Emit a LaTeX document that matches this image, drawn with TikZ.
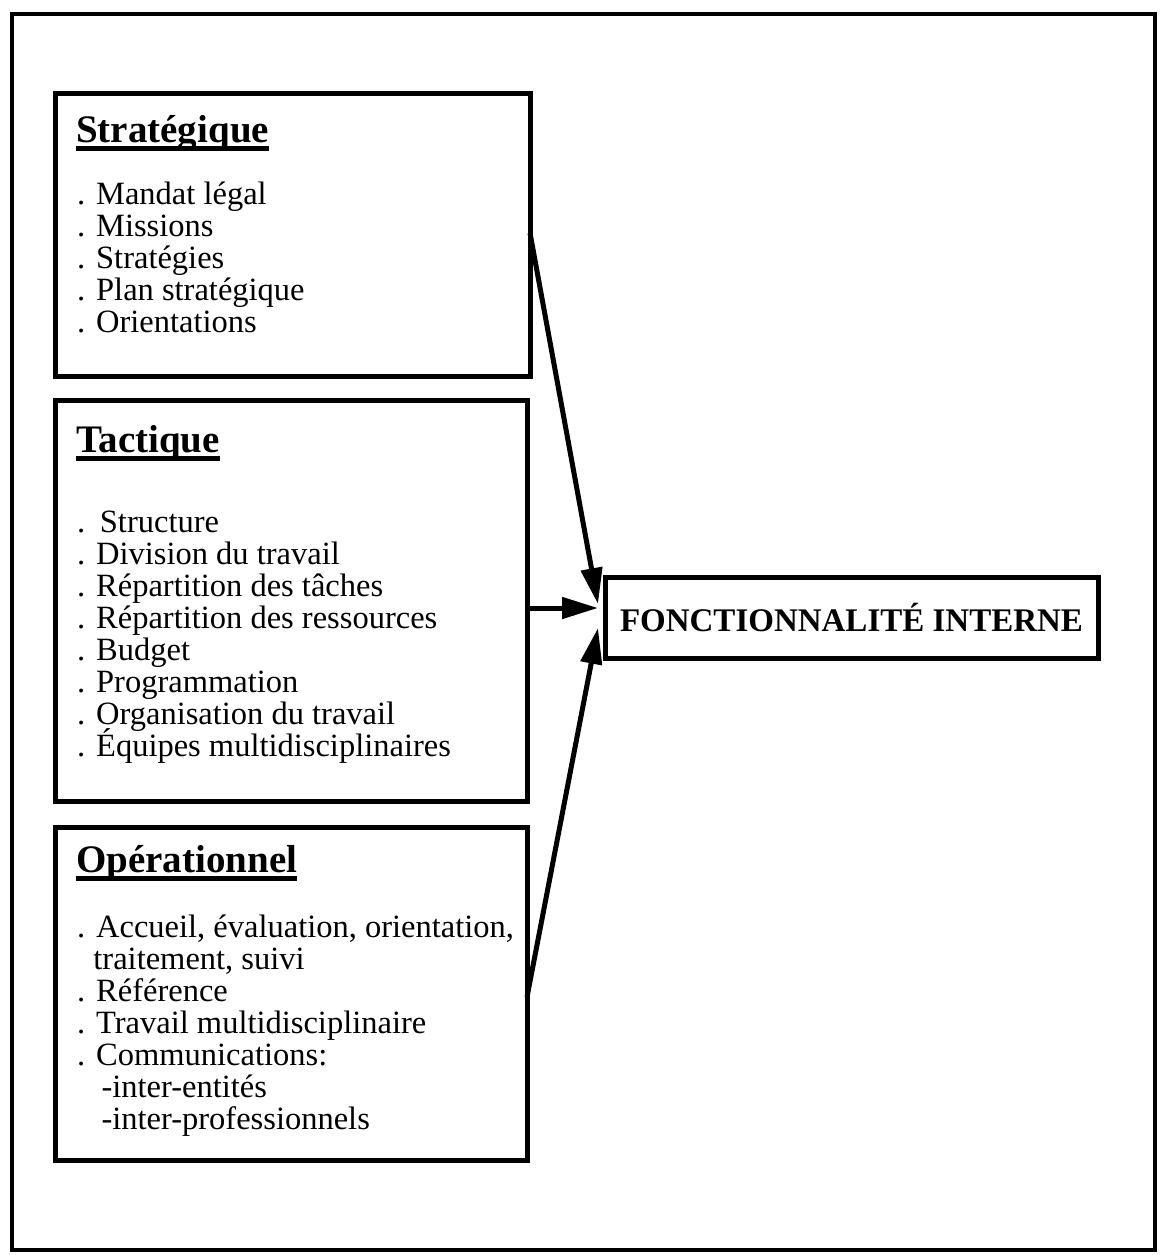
\documentclass[tikz,border=0pt]{standalone}
\usepackage{fontspec}
\setmainfont{Liberation Serif}
\usetikzlibrary{arrows.meta}
\newcommand\ulhead[1]{\setbox0=\hbox{#1}\rlap{\vrule height -4pt depth 8.5pt width \wd0}\box0}
\tikzset{
  boxframe/.style={draw, line width=5pt, inner sep=0pt},
  itemtext/.style={anchor=base west, inner sep=0pt, font=\fontsize{32.5}{32}\selectfont},
  headtext/.style={anchor=base west, inner sep=0pt, font=\fontsize{39}{39}\selectfont\bfseries},
  fitext/.style={inner sep=0pt, font=\fontsize{33}{33}\selectfont\bfseries},
  conn/.style={line width=5pt, -{Triangle[length=36pt,width=21pt]}}
}
\begin{document}
\begin{tikzpicture}[x=1pt,y=-1pt]
\useasboundingbox (0,0) rectangle (1160,1255);
% outer frame
\draw[line width=3.5pt] (12,14) rectangle (1155,1250);
% boxes
\node[boxframe, minimum width=475pt, minimum height=283pt] (b1) at (292.5,234.5) {};
\node[boxframe, minimum width=472pt, minimum height=401pt] (b2) at (291,600.5) {};
\node[boxframe, minimum width=472pt, minimum height=333pt] (b3) at (291,993.5) {};
\node[boxframe, minimum width=493pt, minimum height=81pt] (fi) at (851.5,617.5) {};
\node[fitext] (fit) at (fi.center) {FONCTIONNALITÉ INTERNE};
% headings
\node[headtext] (h1) at (76,142) {\ulhead{Stratégique}};
\node[headtext] (h2) at (76,452) {\ulhead{Tactique}};
\node[headtext] (h3) at (76,872) {\ulhead{Opérationnel}};
% lists
\foreach \t [count=\i] in {. Mandat légal, . Missions, . Stratégies, . Plan stratégique, . Orientations}
  \node[itemtext] (s\i) at (77,{204+32*(\i-1)}) {\t};
\foreach \t [count=\i] in {.\hspace{0.45em}Structure, . Division du travail, . Répartition des tâches, . Répartition des ressources, . Budget, . Programmation, . Organisation du travail, . Équipes multidisciplinaires}
  \node[itemtext] (t\i) at (77,{532+32*(\i-1)}) {\t};
\foreach \t [count=\i] in {{. Accueil, évaluation, orientation,}, {\hspace{0.5em}traitement, suivi}, . Référence, . Travail multidisciplinaire, . Communications:, \hspace{0.75em}-inter-entités, \hspace{0.75em}-inter-professionnels}
  \node[itemtext] (o\i) at (77,{937+32*(\i-1)}) {\t};
% connector end points
\coordinate (p1) at (530,233);
\coordinate (p2) at (527,608);
\coordinate (p3) at (527,997);
\coordinate (q1) at (598,604);
\coordinate (q2) at (598,608);
\coordinate (q3) at (598,628);
\draw[conn] (p1) -- (q1);
\draw[conn] (p2) -- (q2);
\draw[conn] (p3) -- (q3);
\end{tikzpicture}
\end{document}
